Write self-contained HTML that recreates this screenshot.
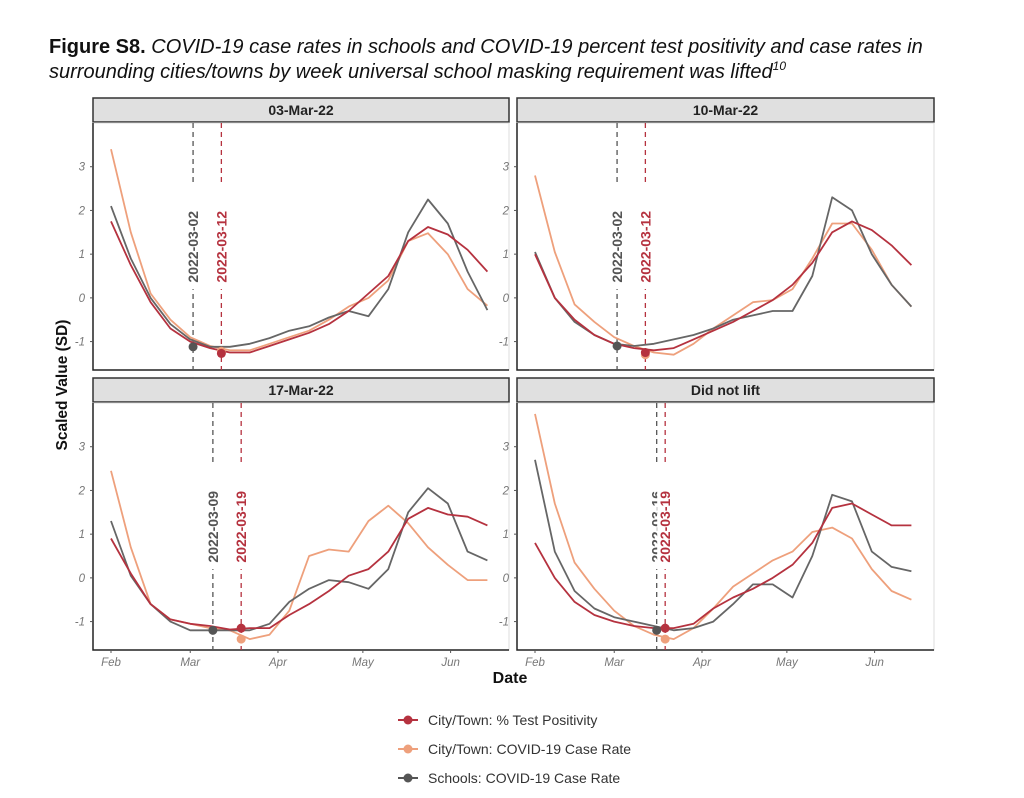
<!DOCTYPE html>
<html><head><meta charset="utf-8"><style>
body{margin:0;background:#fff;width:1024px;height:798px;overflow:hidden;font-family:"Liberation Sans",sans-serif}
svg{position:absolute;left:0;top:0}
</style></head><body>
<svg id="chart" width="1024" height="798">
<text x="49" y="53" font-size="20" fill="#111"><tspan font-weight="bold">Figure S8.</tspan><tspan font-style="italic"> COVID-19 case rates in schools and COVID-19 percent test positivity and case rates in</tspan></text>
<text x="49" y="78" font-size="20" fill="#111" font-style="italic">surrounding cities/towns by week universal school masking requirement was lifted<tspan font-size="12" dy="-8">10</tspan></text>
<text transform="translate(67,385) rotate(-90)" text-anchor="middle" font-size="15.5" font-weight="bold" fill="#111">Scaled Value (SD)</text>
<text x="510" y="683" text-anchor="middle" font-size="16" font-weight="bold" fill="#111">Date</text>
</svg>
<script>
const panelTitles=["03-Mar-22","10-Mar-22","17-Mar-22","Did not lift"];
const weekDays=[0,7,14,21,28,35,42,49,56,63,70,77,84,91,98,105,112,119,126,133];
const monthTicks=["Feb","Mar","Apr","May","Jun"];
const monthDays=[0,28,59,89,120];
const yTicks=[-1,0,1,2,3];
const schoolDates=["2022-03-02","2022-03-02","2022-03-09","2022-03-16"];
const schoolDays=[29,29,36,43];
const cityDates=["2022-03-12","2022-03-12","2022-03-19","2022-03-19"];
const cityDays=[39,39,46,46];
const grayP1=[2.1,0.9,0.0,-0.6,-0.95,-1.12,-1.12,-1.05,-0.92,-0.75,-0.65,-0.45,-0.3,-0.42,0.2,1.5,2.25,1.7,0.6,-0.28];
const redP1=[1.75,0.75,-0.1,-0.7,-1.0,-1.15,-1.25,-1.25,-1.1,-0.95,-0.8,-0.6,-0.3,0.1,0.5,1.3,1.62,1.45,1.1,0.6];
const orangeP1=[3.4,1.5,0.1,-0.5,-0.9,-1.1,-1.2,-1.2,-1.05,-0.9,-0.75,-0.5,-0.2,0.0,0.4,1.3,1.48,1.0,0.2,-0.18];
const grayP2=[1.05,0.0,-0.55,-0.85,-1.05,-1.1,-1.05,-0.95,-0.85,-0.7,-0.5,-0.4,-0.3,-0.3,0.5,2.3,2.0,1.0,0.3,-0.2];
const redP2=[1.0,0.0,-0.5,-0.85,-1.05,-1.15,-1.2,-1.15,-0.95,-0.75,-0.55,-0.3,-0.05,0.3,0.8,1.5,1.75,1.55,1.2,0.75];
const orangeP2=[2.8,1.05,-0.15,-0.55,-0.9,-1.1,-1.25,-1.3,-1.05,-0.7,-0.4,-0.1,-0.05,0.2,0.9,1.7,1.7,1.1,0.3,-0.2];
const grayP3=[1.3,0.05,-0.6,-1.0,-1.2,-1.2,-1.2,-1.2,-1.05,-0.55,-0.25,-0.05,-0.1,-0.25,0.2,1.5,2.05,1.7,0.6,0.4];
const redP3=[0.9,0.1,-0.6,-0.95,-1.05,-1.1,-1.18,-1.15,-1.15,-0.85,-0.6,-0.3,0.05,0.2,0.6,1.35,1.6,1.45,1.4,1.2];
const orangeP3=[2.45,0.7,-0.6,-0.95,-1.05,-1.15,-1.2,-1.4,-1.3,-0.75,0.5,0.65,0.6,1.3,1.65,1.25,0.7,0.3,-0.05,-0.05];
const grayP4=[2.7,0.6,-0.3,-0.7,-0.9,-1.0,-1.1,-1.2,-1.15,-1.0,-0.6,-0.15,-0.15,-0.45,0.5,1.9,1.75,0.6,0.25,0.15];
const redP4=[0.8,0.0,-0.55,-0.85,-1.0,-1.1,-1.15,-1.15,-1.05,-0.7,-0.45,-0.25,0.0,0.3,0.8,1.6,1.7,1.45,1.2,1.2];
const orangeP4=[3.75,1.7,0.35,-0.25,-0.75,-1.1,-1.3,-1.4,-1.15,-0.7,-0.2,0.1,0.4,0.6,1.05,1.15,0.9,0.2,-0.3,-0.5];
const grayMarker=[-1.12,-1.1,-1.2,-1.2];
const redMarker=[-1.27,-1.25,-1.15,-1.15];
const orangeMarker=[-1.22,-1.3,-1.4,-1.4];
const seriesNames=["City/Town: % Test Positivity","City/Town: COVID-19 Case Rate","Schools: COVID-19 Case Rate"];

const grays=[grayP1,grayP2,grayP3,grayP4],reds=[redP1,redP2,redP3,redP4],oranges=[orangeP1,orangeP2,orangeP3,orangeP4];
const C={red:"#b5323f",orange:"#eea07c",gray:"#555"};
const svg=document.getElementById('chart');const NS="http://www.w3.org/2000/svg";
function mk(t,a,p){const e=document.createElementNS(NS,t);for(const k in a)e.setAttribute(k,a[k]);(p||svg).appendChild(e);return e;}
const panels=[{x0:93,x1:509,st:98,top:123,bot:370},{x0:517,x1:934,st:98,top:123,bot:370},{x0:93,x1:509,st:378,top:403,bot:650},{x0:517,x1:934,st:378,top:403,bot:650}];
const ymin=-1.65,ymax=4.0;
panels.forEach((p,i)=>{
  const g=mk('g',{});
  
  
  const xs=d=>p.x0+18+d*2.83;
  const ys=v=>p.bot-(v-ymin)/(ymax-ymin)*(p.bot-p.top);
  const strip=mk('rect',{x:p.x0,y:p.st,width:p.x1-p.x0,height:24,fill:'#e0e0e0',stroke:'#333','stroke-width':1.5},g);
  
  
  const st=mk('text',{x:(p.x0+p.x1)/2,y:p.st+17,'text-anchor':'middle','font-size':14,'font-weight':'bold',fill:'#222'},g);st.textContent=panelTitles[i];
  
  
  mk('rect',{x:p.x0,y:p.top,width:p.x1-p.x0,height:p.bot-p.top,fill:'#fff',stroke:'#ddd'},g);
  mk('path',{d:`M${p.x0},${p.top}V${p.bot}H${p.x1}`,stroke:'#222','stroke-width':1.5,fill:'none'},g);
  yTicks.forEach(v=>{const y=ys(v);mk('line',{x1:p.x0-3,x2:p.x0,y1:y,y2:y,stroke:'#555'},g);
    const t=mk('text',{x:p.x0-8,y:y+4,'text-anchor':'end','font-size':11.5,'font-style':'italic',fill:'#777'},g);t.textContent=v;
    
    });
  if(i>=2) monthTicks.forEach((m,j)=>{const x=xs(monthDays[j]);mk('line',{x1:x,x2:x,y1:p.bot,y2:p.bot+3,stroke:'#555'},g);
    const t=mk('text',{x:x,y:p.bot+16,'text-anchor':'middle','font-size':11.5,'font-style':'italic',fill:'#777'},g);t.textContent=m;
    
    });
  [[schoolDays[i],schoolDates[i],'#555'],[cityDays[i],cityDates[i],C.red]].forEach(([d,lab,c])=>{
    const x=xs(d);const l=mk('line',{x1:x,x2:x,y1:p.top,y2:p.bot,stroke:c,'stroke-width':1.3,'stroke-dasharray':'5,4'},g);
    
    
    mk('rect',{x:x-8,y:ys(0.2)-104,width:16,height:104,fill:'#fff'},g);
    const t=mk('text',{transform:`translate(${x+5},${ys(0.35)}) rotate(-90)`,'font-size':14,'font-weight':'bold',fill:c},g);t.textContent=lab;
    
    });
  [[oranges[i],C.orange,'orange'],[grays[i],'#666','gray'],[reds[i],C.red,'red']].forEach(([arr,c,n])=>{
    const d=arr.map((v,k)=>(k?'L':'M')+xs(weekDays[k]).toFixed(1)+','+ys(v).toFixed(1)).join('');
    const pl=mk('path',{d:d,stroke:c,'stroke-width':1.8,fill:'none','stroke-linejoin':'round'},g);
    
    });
  [[schoolDays[i],grayMarker[i],'#555'],[cityDays[i],orangeMarker[i],C.orange],[cityDays[i],redMarker[i],C.red]].forEach(([d,v,c])=>{
    const m=mk('circle',{cx:xs(d),cy:ys(v),r:4.5,fill:c},g);
    
    });
});
[C.red,C.orange,'#555'].forEach((c,i)=>{
  const y=720+i*29;const g=mk('g',{});
  
  
  mk('line',{x1:398,x2:418,y1:y,y2:y,stroke:c,'stroke-width':2},g);
  mk('circle',{cx:408,cy:y,r:4.5,fill:c},g);
  const t=mk('text',{x:428,y:y+5,'font-size':14,fill:'#333'},g);t.textContent=seriesNames[i];
});
</script>
</body></html>
